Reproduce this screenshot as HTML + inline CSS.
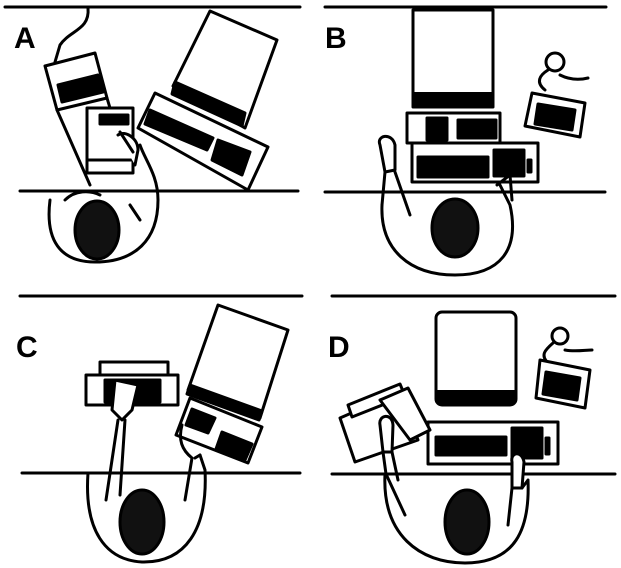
<!DOCTYPE html>
<html><head><meta charset="utf-8"><style>
html,body{margin:0;padding:0;background:#fff;}
svg{display:block;}
text{font-family:"Liberation Sans",sans-serif;font-weight:bold;font-size:30px;fill:#000;}
</style></head><body>
<svg width="621" height="568" viewBox="0 0 621 568" xmlns="http://www.w3.org/2000/svg">
<g fill="none" stroke="#000" stroke-width="3" stroke-linejoin="round" stroke-linecap="round">
<!-- horizontal lines -->
<line x1="5" y1="7" x2="300" y2="7"/><line x1="325" y1="7" x2="606" y2="7"/>
<line x1="20" y1="191" x2="298" y2="191"/><line x1="325" y1="192" x2="605" y2="192"/>
<line x1="20" y1="296" x2="302" y2="296"/><line x1="332" y1="296" x2="615" y2="296"/>
<line x1="22" y1="473" x2="300" y2="473"/><line x1="332" y1="474" x2="615" y2="474"/>

<!-- ===== A ===== -->
<path d="M88 8 C90 30 70 30 60 45 L55 62"/>
<polygon points="45,66 95,53 107,98 57,110" fill="#fff"/>
<polygon points="58,85 98,75 103,92 62,102" fill="#000"/>
<path d="M57 110 L90 185 M107 98 L110 108"/>
<rect x="87" y="108" width="46" height="65" fill="#fff"/>
<line x1="87" y1="160" x2="133" y2="160"/>
<rect x="100" y="115" width="28" height="9" fill="#000"/>
<polygon points="210,11 277,40 245,128 173,86" fill="#fff"/>
<polygon points="175,82 245,113 242,126 172,94" fill="#000"/>
<polygon points="155,93 268,147 248,190 138,128" fill="#fff"/>
<polygon points="150,110 213,138 207,150 145,124" fill="#000"/>
<polygon points="218,140 250,152 242,175 212,160" fill="#000"/>
<path d="M50 200 C45 240 60 262 95 262 C135 262 158 240 158 200 C158 175 145 160 140 145"/>
<path d="M118 135 C125 130 138 138 138 150 L135 165" fill="#fff"/>
<path d="M120 132 L133 152"/>
<path d="M65 200 C75 190 90 190 100 195"/>
<ellipse cx="97" cy="230" rx="22" ry="29" fill="#111"/>
<path d="M130 205 L140 220"/>

<!-- ===== B ===== -->
<rect x="413" y="10" width="80" height="97" fill="#fff"/>
<rect x="414" y="92" width="78" height="14" fill="#000" stroke="none"/>
<rect x="407" y="113" width="93" height="30" fill="#fff"/>
<rect x="427" y="118" width="20" height="22" fill="#000"/>
<rect x="458" y="120" width="38" height="18" fill="#000"/>
<rect x="412" y="143" width="126" height="39" fill="#fff"/>
<rect x="418" y="157" width="70" height="20" fill="#000"/>
<rect x="494" y="150" width="30" height="26" fill="#000"/>
<rect x="528" y="160" width="3" height="12" fill="#000"/>
<circle cx="555" cy="62" r="9" fill="#fff"/>
<path d="M548 70 C540 75 535 82 545 90 M560 75 C570 80 580 80 588 78"/>
<polygon points="532,93 585,103 580,137 525,126" fill="#fff"/>
<polygon points="538,104 575,110 572,130 535,124" fill="#000"/>
<path d="M382 205 C380 250 410 275 455 275 C500 275 520 250 510 205 L500 185"/>
<path d="M380 145 C376 135 392 132 395 145 L395 170 L385 172 Z" fill="#fff"/>
<path d="M385 172 L382 205 M395 172 L410 215"/>
<path d="M497 185 L510 175 L512 200"/>
<ellipse cx="455" cy="228" rx="23" ry="29" fill="#111"/>

<!-- ===== C ===== -->
<polygon points="218,305 288,330 260,418 188,390" fill="#fff"/>
<polygon points="190,385 262,411 259,420 187,394" fill="#000"/>
<polygon points="190,398 262,427 248,463 176,435" fill="#fff"/>
<polygon points="192,409 215,418 208,433 186,425" fill="#000"/>
<polygon points="222,432 252,444 245,460 216,449" fill="#000"/>
<rect x="100" y="362" width="68" height="13" fill="#fff"/>
<rect x="86" y="375" width="92" height="30" fill="#fff"/>
<rect x="105" y="380" width="55" height="22" fill="#000"/>
<path d="M115 380 L112 410 L122 420 L132 410 L138 385 Z" fill="#fff"/>
<path d="M88 473 C84 530 105 560 142 562 C185 563 208 530 205 470 L200 455"/>
<path d="M118 420 L106 500 M125 420 L120 495"/>
<path d="M182 425 C178 440 182 450 192 458 L190 470 L185 500 M195 458 L200 455"/>
<ellipse cx="142" cy="522" rx="22" ry="32" fill="#111"/>

<!-- ===== D ===== -->
<rect x="436" y="312" width="80" height="93" rx="6" fill="#fff"/>
<rect x="437" y="390" width="78" height="14" fill="#000" stroke="none"/>
<rect x="428" y="422" width="130" height="42" fill="#fff"/>
<rect x="436" y="437" width="70" height="18" fill="#000"/>
<rect x="512" y="428" width="30" height="30" fill="#000"/>
<rect x="546" y="438" width="3" height="16" fill="#000"/>
<circle cx="560" cy="336" r="8" fill="#fff"/>
<path d="M553 343 C545 350 540 355 548 363 M565 350 C575 352 585 350 592 350"/>
<polygon points="540,360 590,370 585,408 536,398" fill="#fff"/>
<polygon points="546,372 580,378 577,400 543,394" fill="#000"/>
<polygon points="340,418 400,392 418,440 355,462" fill="#fff"/>
<polygon points="348,405 400,384 405,396 352,417" fill="#fff"/>
<polygon points="380,400 408,388 430,430 410,440" fill="#fff"/>
<path d="M380 425 C378 415 392 412 393 425 L392 452 L383 452 Z" fill="#fff"/>
<path d="M512 462 C510 452 522 450 524 462 L522 488 L512 488 Z" fill="#fff"/>
<path d="M385 474 C382 535 420 563 465 563 C515 563 530 530 528 480 L522 488"/>
<path d="M383 452 L386 474 L405 515 M392 452 L398 480 M512 488 L508 525"/>
<ellipse cx="467" cy="522" rx="22" ry="32" fill="#111"/>
</g>
<text x="14" y="48">A</text>
<text x="325" y="48">B</text>
<text x="16" y="357">C</text>
<text x="328" y="357">D</text>
</svg>
</body></html>
